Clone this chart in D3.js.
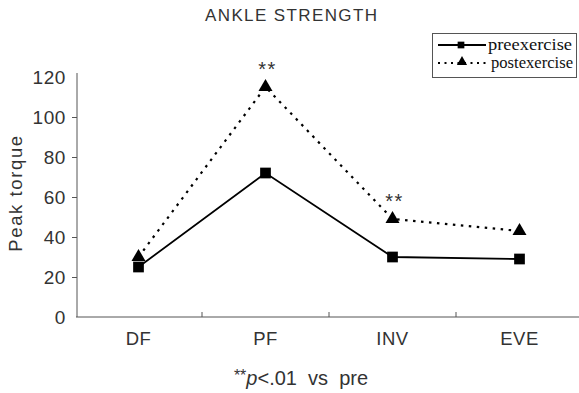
<!DOCTYPE html>
<html><head><meta charset="utf-8">
<script src="https://cdn.jsdelivr.net/npm/d3@7"></script>
<style>body{margin:0;background:#fff}svg{display:block}</style>
</head><body><svg id="c" width="579" height="393"></svg>
<script>
const categories = ["DF","PF","INV","EVE"];
const preValues = [25, 72, 30, 29];
const postValues = [30, 115, 49, 43];
const yTicks = [0,20,40,60,80,100,120];
const sigMarks = ["", "**", "**", ""];
const seriesNames = ["preexercise","postexercise"];

const svg = d3.select("#c");
const sans = "'Liberation Sans', Arial, sans-serif";
const serif = "'Liberation Serif', 'Times New Roman', serif";
const tc = "#333";

const x = d3.scaleBand().domain(categories).range([75, 583]);
const y = d3.scaleLinear().domain([0,120]).range([317, 77]);
const cx = d => x(d) + x.bandwidth()/2;

// title
svg.append("text").attr("x", 291).attr("y", 21).attr("text-anchor","middle")
  .attr("font-family", sans).attr("font-size", 17).attr("fill", tc)
  .attr("textLength", 172).attr("lengthAdjust","spacing")
  .text("ANKLE STRENGTH");

// y axis
const yAxis = d3.axisLeft(y).tickValues(yTicks).tickSize(5).tickSizeOuter(0).tickPadding(6);
const gy = svg.append("g").attr("transform","translate(77,0)").call(yAxis);
gy.select(".domain").attr("stroke","#555").attr("d","M0,73V317");
gy.selectAll(".tick line").attr("stroke","#555").filter(d=>d===0||d===120).remove();
gy.selectAll(".tick text").attr("font-family", sans).attr("font-size", 19).attr("fill", tc)
  .attr("letter-spacing", 0.6).attr("dy","0.36em");

// x axis
const xAxis = d3.axisBottom(x).tickSize(0).tickPadding(15).tickSizeOuter(0);
const gx = svg.append("g").attr("transform","translate(0,317)").call(xAxis);
gx.select(".domain").attr("stroke","#555").attr("d","M76,0H579");
gx.selectAll(".tick text").attr("font-family", sans).attr("font-size", 18.5).attr("fill", tc).attr("letter-spacing", 0.5);
// separators between categories
gx.selectAll(".sep").data(categories.slice(1)).enter().append("line")
  .attr("x1", d=>x(d)).attr("x2", d=>x(d)).attr("y1", 0).attr("y2", -5).attr("stroke","#555");

// y label
svg.append("text").attr("transform","translate(22,193) rotate(-90)").attr("text-anchor","middle")
  .attr("font-family", sans).attr("font-size", 18.5).attr("fill", tc).attr("letter-spacing", 1.6)
  .text("Peak torque");

// lines
const line = d3.line().x((d,i)=>cx(categories[i])).y(d=>y(d));
svg.append("path").datum(postValues).attr("d", line).attr("fill","none")
  .attr("stroke","#000").attr("stroke-width",2.2).attr("stroke-dasharray","2.5,5.5");
svg.append("path").datum(preValues).attr("d", line).attr("fill","none")
  .attr("stroke","#000").attr("stroke-width",1.8);

const tri = d3.symbol().type(d3.symbolTriangle).size(85);
const sq = d3.symbol().type(d3.symbolSquare).size(115);
svg.selectAll(".pt").data(postValues).enter().append("path")
  .attr("d", tri).attr("transform",(d,i)=>`translate(${cx(categories[i])},${y(d)})`).attr("fill","#000");
svg.selectAll(".ps").data(preValues).enter().append("path")
  .attr("d", sq).attr("transform",(d,i)=>`translate(${cx(categories[i])},${y(d)})`).attr("fill","#000");

// significance marks
svg.selectAll(".sig").data(sigMarks).enter().append("text")
  .attr("x",(d,i)=>cx(categories[i])+2).attr("y",(d,i)=>y(postValues[i])-11)
  .attr("text-anchor","middle").attr("font-family", sans).attr("font-size", 20).attr("fill", tc)
  .attr("letter-spacing", 1.5).text(d=>d);

// legend
const lg = svg.append("g");
lg.append("rect").attr("x",432.5).attr("y",33.5).attr("width",144).attr("height",44)
  .attr("fill","#fff").attr("stroke","#555");
const ly = [45, 63];
lg.append("line").attr("x1",438).attr("x2",486).attr("y1",ly[0]).attr("y2",ly[0]).attr("stroke","#000").attr("stroke-width",1.8);
lg.append("path").attr("d", d3.symbol().type(d3.symbolSquare).size(45)).attr("transform",`translate(461,${ly[0]})`).attr("fill","#000");
lg.append("line").attr("x1",438).attr("x2",488).attr("y1",ly[1]).attr("y2",ly[1]).attr("stroke","#000").attr("stroke-width",1.8).attr("stroke-dasharray","2,4.5");
lg.append("path").attr("d", d3.symbol().type(d3.symbolTriangle).size(45)).attr("transform",`translate(462,${ly[1]-1})`).attr("fill","#000");
lg.selectAll(".lt").data(seriesNames).enter().append("text")
  .attr("x",(d,i)=> i===0?488:491).attr("y",(d,i)=>ly[i]+5)
  .attr("font-family", serif).attr("font-size", 17).attr("fill","#111")
  .attr("textLength",(d,i)=> i===0?84:82).attr("lengthAdjust","spacingAndGlyphs").text(d=>d);

// footnote
const fn = svg.append("text").attr("x", 301).attr("y", 385).attr("text-anchor","middle")
  .attr("font-family", sans).attr("font-size", 20).attr("fill", tc).style("white-space","pre");
fn.append("tspan").attr("font-size",16).attr("dy","-4").text("**");
fn.append("tspan").attr("font-style","italic").attr("dy","4").text("p");
fn.append("tspan").text("<.01  vs  pre");
</script></body></html>
